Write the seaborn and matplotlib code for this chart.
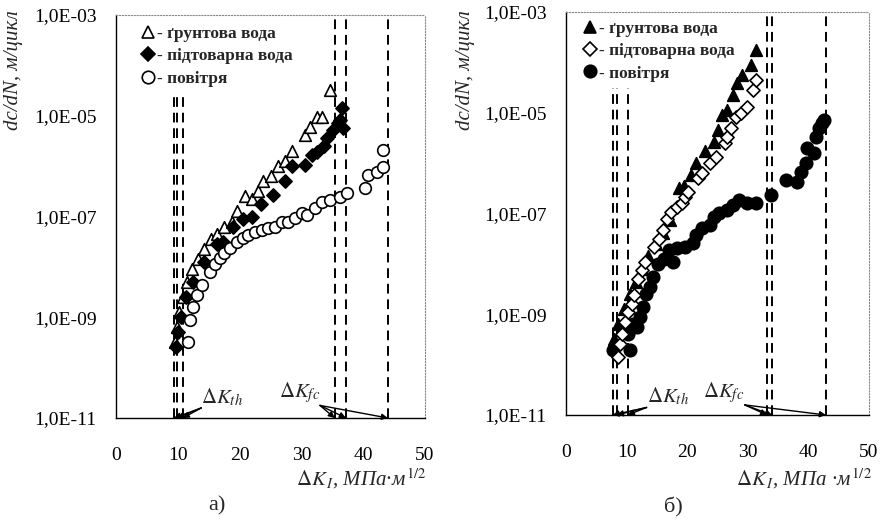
import numpy as np
import pandas as pd
import matplotlib
matplotlib.use("Agg")
import matplotlib.pyplot as plt
from matplotlib.lines import Line2D
from matplotlib.ticker import NullFormatter, LogLocator, MultipleLocator
import seaborn as sns

# ---------------- data (ΔK in MPa·m^1/2, log10 of dc/dN in m/cycle) ----------------
# panel a)
a_ground_dk = [9.5, 9.8, 10.2, 10.8, 11.5, 12.3, 13.2, 14.2, 15.3, 16.3, 17.5, 18.8, 19.5,
               20.9, 22.0, 23.0, 23.8, 25.0, 26.2, 27.3, 28.5, 30.6, 31.4, 32.5, 33.3, 34.6]
a_ground_lg = [-9.5, -9.2, -8.9, -8.6, -8.3, -8.05, -7.85, -7.65, -7.45, -7.35, -7.2, -7.1, -6.9,
               -6.6, -6.65, -6.5, -6.3, -6.2, -6.0, -5.9, -5.7, -5.38, -5.22, -5.02, -5.02, -4.49]

a_prod_dk = [9.7, 10.0, 10.5, 11.4, 12.4, 14.2, 16.3, 17.3, 19.0, 20.5, 22.0, 23.5, 25.4,
             27.3, 28.5, 30.6, 31.7, 32.5, 33.6, 34.1, 35.1, 36.0, 36.7, 36.2, 36.6]
a_prod_lg = [-9.6, -9.3, -9.0, -8.6, -8.3, -7.9, -7.55, -7.5, -7.2, -7.05, -7.0, -6.75, -6.57,
             -6.3, -6.0, -5.98, -5.78, -5.72, -5.6, -5.44, -5.28, -5.15, -5.24, -5.08, -4.85]

a_air_dk = [11.7, 12.0, 12.4, 13.1, 13.9, 15.2, 16.0, 16.8, 17.5, 18.4, 19.6, 20.6, 21.4, 22.5,
            23.6, 24.6, 25.7, 26.9, 27.8, 29.0, 30.1, 30.9, 32.2, 33.3, 34.6, 36.2, 37.4,
            40.3, 40.8, 42.2, 43.2, 43.2]
a_air_lg = [-9.5, -9.05, -8.8, -8.55, -8.35, -8.1, -7.95, -7.82, -7.72, -7.62, -7.5, -7.42, -7.37,
            -7.31, -7.27, -7.23, -7.2, -7.11, -7.1, -7.03, -6.93, -6.97, -6.83, -6.71, -6.67,
            -6.61, -6.53, -6.43, -6.17, -6.11, -6.02, -5.68]

a_th_lines = [9.4, 9.9, 10.8]
a_fc_lines = [35.4, 37.2, 44.0]

# panel б)
b_ground_dk = [7.9, 8.5, 9.5, 10.5, 11.5, 12.5, 13.5, 14.8, 16.0, 17.1, 18.7, 19.5, 20.7, 21.5,
               23.0, 24.5, 25.0, 25.8, 26.5, 27.5, 28.3, 29.1, 30.6, 31.4]
b_ground_lg = [-9.5, -9.2, -8.9, -8.6, -8.35, -8.1, -7.85, -7.6, -7.38, -7.13, -6.49, -6.45, -6.23,
               -6.0, -5.75, -5.58, -5.34, -5.04, -4.95, -4.65, -4.41, -4.25, -4.05, -3.75]

b_prod_dk = [8.6, 8.9, 9.2, 9.7, 10.3, 10.9, 11.3, 11.8, 12.5, 13.0, 14.6, 15.3, 16.0, 16.6, 17.4,
             18.3, 19.1, 19.6, 20.1, 21.7, 22.5, 23.7, 24.8, 26.2, 26.5, 27.3, 28.1, 28.9,
             29.8, 30.8, 31.4]
b_prod_lg = [-9.85, -9.6, -9.4, -9.15, -8.95, -8.8, -8.62, -8.3, -8.12, -7.96, -7.66, -7.5, -7.33,
             -7.1, -6.97, -6.87, -6.79, -6.67, -6.57, -6.29, -6.2, -6.0, -5.88, -5.6, -5.48,
             -5.3, -5.08, -5.0, -4.88, -4.55, -4.35]

b_air_dk = [7.7, 10.5, 10.2, 11.0, 11.7, 12.2, 12.7, 13.2, 13.8, 14.3, 15.2, 16.2, 17.0, 17.6,
            18.3, 19.6, 20.9, 21.5, 22.5, 23.7, 24.5, 25.3, 26.5, 27.5, 28.6, 29.9, 31.4,
            33.9, 36.3, 38.2, 38.8, 39.6, 39.8, 41.0, 41.3, 41.8, 42.3, 42.6]
b_air_lg = [-9.7, -9.7, -9.4, -9.2, -9.25, -9.05, -8.85, -8.6, -8.46, -8.26, -8.0, -7.9, -7.72,
            -7.96, -7.68, -7.66, -7.58, -7.42, -7.29, -7.23, -7.07, -6.99, -6.93, -6.83, -6.73,
            -6.79, -6.79, -6.63, -6.33, -6.37, -6.17, -6.0, -5.7, -5.8, -5.48, -5.3, -5.2, -5.14]

b_th_lines = [7.7, 8.4, 10.2]
b_fc_lines = [33.2, 34.0, 42.9]

legend_labels = ["- ґрунтова вода", "- підтоварна вода", "- повітря"]
ytick_vals = [1e-3, 1e-5, 1e-7, 1e-9, 1e-11]
ytick_labels = ["1,0E-03", "1,0E-05", "1,0E-07", "1,0E-09", "1,0E-11"]
xtick_vals = [0, 10, 20, 30, 40, 50]
panel_labels = ["а)", "б)"]

# ---------------- style ----------------
sns.set_style("white")
plt.rcParams["font.family"] = ["Liberation Serif", "DejaVu Serif"]
plt.rcParams["mathtext.fontset"] = "stix"

fig = plt.figure(figsize=(8.86, 5.23), dpi=100)
axA = fig.add_axes([116 / 886, 1 - 418 / 523, (425 - 116) / 886, (418 - 15) / 523])
axB = fig.add_axes([566 / 886, 1 - 415 / 523, (869 - 566) / 886, (415 - 12) / 523])


def series(ax, dk, lg, marker, face, size):
    d = pd.DataFrame({"dk": dk, "rate": 10.0 ** np.array(lg)})
    sns.scatterplot(data=d, x="dk", y="rate", ax=ax, marker=marker, s=size,
                    facecolor=face, edgecolor="black", linewidth=1.2, zorder=3, legend=False)


def style_axes(ax, th_lines, fc_lines, th_top):
    ax.set_yscale("log")
    ax.set_xlim(0, 50)
    ax.set_ylim(1e-11, 1e-3)
    ax.set_yticks(ytick_vals)
    ax.set_yticklabels(ytick_labels)
    ax.yaxis.set_minor_locator(LogLocator(base=10, subs=np.arange(1, 10), numticks=20))
    ax.yaxis.set_minor_formatter(NullFormatter())
    ax.set_xticks(xtick_vals)
    ax.xaxis.set_minor_locator(MultipleLocator(5))
    ax.tick_params(axis="both", which="major", direction="in", length=5, width=0.8,
                   labelsize=14, colors="black")
    ax.tick_params(axis="both", which="minor", direction="in", length=3, width=0.6)
    ax.tick_params(axis="x", which="major", pad=21)
    ax.tick_params(axis="y", which="major", pad=14)
    ax.set_xlabel("")
    ax.set_ylabel("")
    for s in ["left", "bottom"]:
        ax.spines[s].set_color("black")
        ax.spines[s].set_linewidth(1.0)
    for s in ["top", "right"]:
        ax.spines[s].set_color("#888888")
        ax.spines[s].set_linestyle(":")
        ax.spines[s].set_linewidth(0.8)
    for x in th_lines:
        ax.axvline(x, ymin=0, ymax=th_top, color="black", lw=1.4, ls=(0, (5, 3)), zorder=2)
    for x in fc_lines:
        ax.axvline(x, ymin=0, ymax=1, color="black", lw=1.4, ls=(0, (5, 3)), zorder=2)


# panel a
series(axA, a_ground_dk, a_ground_lg, "^", "white", 70)
series(axA, a_prod_dk, a_prod_lg, "D", "black", 45)
series(axA, a_air_dk, a_air_lg, "o", "white", 70)
style_axes(axA, a_th_lines, a_fc_lines, 0.806)

# panel b
series(axB, b_air_dk, b_air_lg, "o", "black", 80)
series(axB, b_ground_dk, b_ground_lg, "^", "black", 70)
series(axB, b_prod_dk, b_prod_lg, "D", "white", 45)
style_axes(axB, b_th_lines, b_fc_lines, 0.811)


def make_legend(ax, specs, anchor):
    handles = [Line2D([], [], ls="none", marker=m, markersize=ms, markerfacecolor=f,
                      markeredgecolor="black", markeredgewidth=1.2) for m, f, ms in specs]
    ax.legend(handles, legend_labels, loc="upper left", bbox_to_anchor=anchor, frameon=False,
              handlelength=0.6, handletextpad=0.2, labelspacing=0.35, borderaxespad=0,
              prop={"family": "Liberation Serif", "weight": "bold", "size": 12.5})

make_legend(axA, [("^", "white", 9), ("D", "black", 7), ("o", "white", 9)], (0.065, 0.99))
make_legend(axB, [("^", "black", 9), ("D", "white", 7), ("o", "black", 9)], (0.04, 0.995))

# annotations ΔK_th / ΔK_fc
arrow = dict(arrowstyle="-|>", color="black", lw=1.0, mutation_scale=9, shrinkA=0, shrinkB=0)

def annotate(ax, label, xytext, targets, ha):
    for t in targets:
        ax.annotate("", xy=(t, 1e-11), xytext=xytext, xycoords="data", textcoords="data",
                    arrowprops=arrow, annotation_clip=False)
    ax.text(xytext[0], xytext[1], label, ha=ha, va="bottom", fontsize=15)

annotate(axA, r"$\Delta K_{th}$", (13.8, 10 ** -10.8), a_th_lines, "left")
annotate(axA, r"$\Delta K_{fc}$", (33.0, 10 ** -10.75), a_fc_lines, "right")
annotate(axB, r"$\Delta K_{th}$", (13.3, 10 ** -10.85), b_th_lines, "left")
annotate(axB, r"$\Delta K_{fc}$", (29.5, 10 ** -10.8), b_fc_lines, "right")

# axis titles
for x in [14 / 886, 466 / 886]:
    fig.text(x, 1 - 70 / 523, "dc/dN, м/цикл", rotation=90, ha="center", va="center",
             fontsize=15, style="italic")
fig.text(427 / 886, 1 - 479 / 523, r"$\Delta K_{\,I}$, МПа·м$^{\,1/2}$", ha="right", va="center",
         fontsize=15, style="italic")
fig.text(872 / 886, 1 - 479 / 523, r"$\Delta K_{\,I}$, МПа ·м$^{\,1/2}$", ha="right", va="center",
         fontsize=15, style="italic")
fig.text(217 / 886, 1 - 506 / 523, panel_labels[0], ha="center", va="center", fontsize=16)
fig.text(673 / 886, 1 - 507 / 523, panel_labels[1], ha="center", va="center", fontsize=16)

fig.savefig("out.png", dpi=100)
